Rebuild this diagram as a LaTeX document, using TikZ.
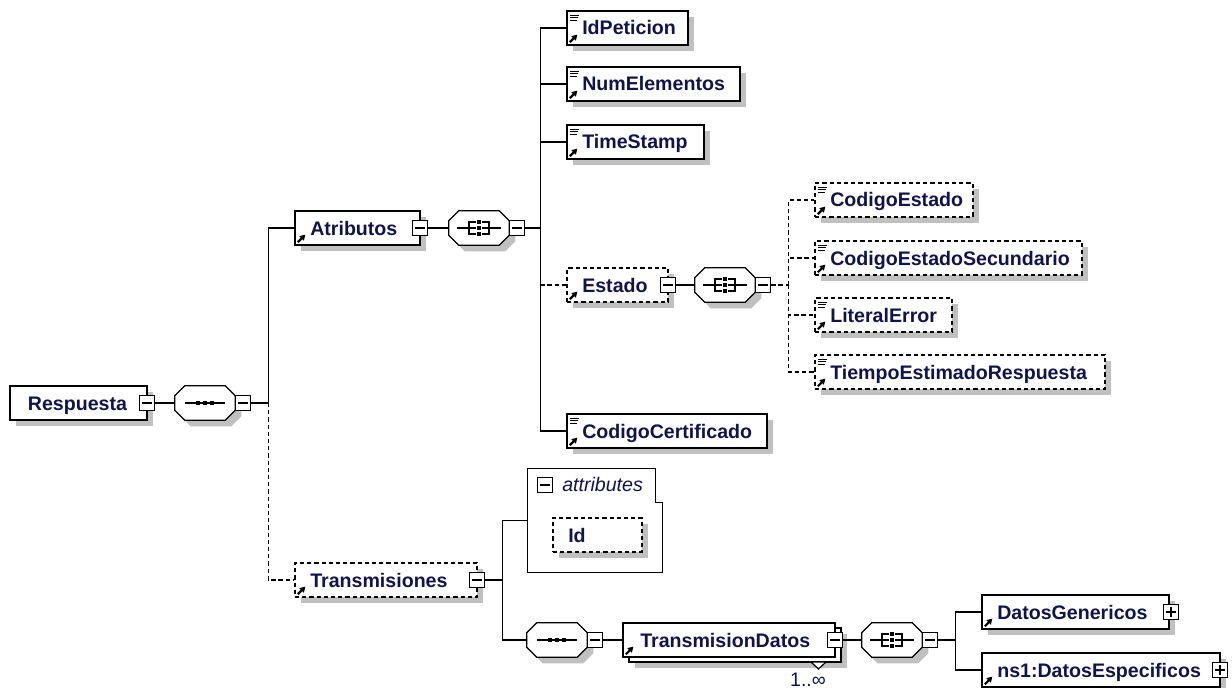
\documentclass[tikz,border=0pt]{standalone}
\usepackage{fontspec}
\setmainfont{Liberation Sans}
\usetikzlibrary{calc,shadows,arrows.meta}
\definecolor{txt}{RGB}{16,20,72}
\definecolor{shd}{RGB}{192,192,192}
\tikzset{
  conn/.style={line width=1pt, draw=black},
  dsh/.style={dash pattern=on 3.2pt off 2.2pt},
  elplain/.style={draw=black, fill=white, line width=1pt, minimum height=25.5pt, inner sep=0pt},
  elbox/.style={elplain, general shadow={fill=shd, shadow xshift=4.5pt, shadow yshift=-4.5pt}},
  eltext/.style={font=\fontsize{14.7}{17}\selectfont\bfseries, text=txt, inner sep=0pt, anchor=base west},
  mbox/.style={draw=black, fill=white, line width=0.9pt, minimum size=11.5pt, inner sep=0pt,
    path picture={\draw[line width=0.9pt] ([xshift=2pt]path picture bounding box.west) -- ([xshift=-2pt]path picture bounding box.east);}},
  pbox/.style={draw=black, fill=white, line width=0.9pt, minimum size=11.5pt, inner sep=0pt,
    path picture={\draw[line width=0.9pt] ([xshift=2pt]path picture bounding box.west) -- ([xshift=-2pt]path picture bounding box.east)
      ([yshift=2pt]path picture bounding box.south) -- ([yshift=-2pt]path picture bounding box.north);}},
  cbox/.style={minimum width=45pt, minimum height=25.5pt, inner sep=0pt},
  octo/.style={draw=black, fill=white, line width=1pt, general shadow={fill=shd, shadow xshift=4.5pt, shadow yshift=-4.5pt}},
  icon/.style={line width=0.75pt},
}
\newcommand\xel[6]{%
  \node[#5, minimum width={(#4-#2)*0.75pt}] (#1) at ({(#2+#4)/2},#3) {};
  \node[eltext] (#1-t) at (#2+15,#3+7) {#6};}
\newcommand\icarrow[1]{\draw[line width=1.6pt,-{Triangle[length=4pt,width=4.6pt]}] ($(#1.south west)+(3.5,-3.5)$) -- ($(#1.south west)+(11,-11)$);}
\newcommand\iclines[1]{\draw[icon] ($(#1.north west)+(4,5)$) -- ++(9,0) ($(#1.north west)+(4,7.5)$) -- ++(8,0) ($(#1.north west)+(4,10)$) -- ++(7,0);}
\newcommand\xcomp[3]{%
  \node[cbox] (#1) at (#2+30,#3) {};
  \draw[octo] ($(#1.north west)+(10,0)$) -- ($(#1.north east)+(-10,0)$) -- ($(#1.north east)+(0,10)$) -- ($(#1.south east)+(0,-10)$) -- ($(#1.south east)+(-10,0)$) -- ($(#1.south west)+(10,0)$) -- ($(#1.south west)+(0,-10)$) -- ($(#1.north west)+(0,10)$) -- cycle;
  \node[mbox] (#1-m) at (#2+68,#3) {};}
\newcommand\symseq[1]{%
  \draw[line width=1pt] ($(#1)+(-20,0)$) -- ($(#1)+(20,0)$);
  \foreach \d in {-7,0,7} \fill ($(#1)+(\d-2.2,-2.2)$) rectangle ($(#1)+(\d+2.2,2.2)$);}
\newcommand\symcho[1]{%
  \draw[line width=1pt] ($(#1)+(-22,0)$) -- ($(#1)+(-3,0)$) ($(#1)+(3,0)$) -- ($(#1)+(22,0)$)
    ($(#1)+(-3,-6)$) -- ($(#1)+(-10,-6)$) -- ($(#1)+(-10,6)$) -- ($(#1)+(-3,6)$)
    ($(#1)+(3,-6)$) -- ($(#1)+(10,-6)$) -- ($(#1)+(10,6)$) -- ($(#1)+(3,6)$);
  \foreach \d in {-6,0,6} \fill ($(#1)+(-2.2,\d-2.2)$) rectangle ($(#1)+(2.2,\d+2.2)$);}
\begin{document}
\begin{tikzpicture}[x=0.75pt,y=-0.75pt]
\fill[white] (0,0) rectangle (1232,688);
\useasboundingbox (0,0) rectangle (1232,688);

% root and first sequence
\xel{resp}{10}{403}{147}{elbox}{\hspace*{2pt}Respuesta}
\node[mbox] (resp-m) at (147,403) {};
\xcomp{s1}{175}{403}\symseq{s1}

% Atributos
\xel{atr}{295}{228}{420}{elbox}{Atributos}\icarrow{atr}
\node[mbox] (atr-m) at (420,228) {};
\xcomp{c1}{449}{228}\symcho{c1}

% leaves of Atributos
\xel{idp}{567}{28}{688}{elbox}{IdPeticion}\iclines{idp}\icarrow{idp}
\xel{nume}{567}{84}{740}{elbox}{NumElementos}\iclines{nume}\icarrow{nume}
\xel{tst}{567}{142}{704}{elbox}{TimeStamp}\iclines{tst}\icarrow{tst}
\xel{est}{567}{285}{668}{elbox,dsh}{Estado}\icarrow{est}
\node[mbox] (est-m) at (668,285) {};
\xel{cert}{567}{431}{767}{elbox}{CodigoCertificado}\iclines{cert}\icarrow{cert}

% Estado
\xcomp{c2}{695}{285}\symcho{c2}
\xel{ce}{815}{200}{973}{elbox,dsh}{CodigoEstado}\iclines{ce}\icarrow{ce}
\xel{ces}{815}{258}{1082}{elbox,dsh}{CodigoEstadoSecundario}\iclines{ces}\icarrow{ces}
\xel{le}{815}{315}{952}{elbox,dsh}{LiteralError}\iclines{le}\icarrow{le}
\xel{ter}{815}{372}{1105}{elbox,dsh}{TiempoEstimadoRespuesta}\iclines{ter}\icarrow{ter}

% Transmisiones
\xel{trans}{295}{580}{477}{elbox,dsh}{Transmisiones}\icarrow{trans}
\node[mbox] (trans-m) at (477,580) {};
\node[minimum width=100.5pt, minimum height=77.25pt, inner sep=0pt] (attrs) at (595,520.5) {};
\draw[line width=1pt] (attrs.north west) -- ($(attrs.north east)+(-7,0)$) -- ($(attrs.north east)+(-7,34)$) -- ($(attrs.north east)+(0,34)$) -- (attrs.south east) -- (attrs.south west) -- cycle;
\node[mbox] (attrs-m) at (545,485) {};
\node[font=\fontsize{14.7}{17}\selectfont\itshape, text=txt, anchor=base west, inner sep=0pt] (attrs-t) at (562,491) {attributes};
\xel{id}{553}{535}{642}{elbox,dsh}{Id}

\xcomp{s2}{527}{640}\symseq{s2}
\node[elbox, minimum width=159pt] (tdb) at (735,645) {};
\xel{td}{623}{640}{835}{elplain}{\hspace*{1.5pt}TransmisionDatos}\icarrow{td}
\node[mbox] (td-m) at (835,640) {};
\draw[line width=0.9pt, fill=white] (811,662) -- (826,662) -- (818.5,669) -- cycle;
\node[font=\fontsize{14.7}{17}\selectfont, text=txt, anchor=base, inner sep=0pt] (mult) at (808,686) {1..∞};

\xcomp{c3}{862}{640}\symcho{c3}
\xel{dg}{982}{612}{1169}{elbox}{DatosGenericos}\icarrow{dg}
\node[pbox] (dg-p) at (1171,612) {};
\xel{de}{982}{670}{1220}{elbox}{ns1:DatosEspecificos}\icarrow{de}
\node[pbox] (de-p) at (1220,670) {};

% connectors
\draw[conn] (resp-m.east) -- (s1.west);
\coordinate (j1) at ($(s1-m.east)+(17,0)$);
\draw[conn] (s1-m.east) -- (j1) |- (atr.west);
\draw[conn,dsh] (j1) |- (trans.west);
\draw[conn] (atr-m.east) -- (c1.west);
\coordinate (j2) at ($(c1-m.east)+(15,0)$);
\draw[conn] (c1-m.east) -- (j2);
\draw[conn] (j2) |- (idp.west) (j2) |- (nume.west) (j2) |- (tst.west) (j2) |- (cert.west);
\draw[conn,dsh] (j2 |- est.west) -- (est.west);
\draw[conn] (est-m.east) -- (c2.west);
\coordinate (j3) at ($(c2-m.east)+(17,0)$);
\draw[conn,dsh] (c2-m.east) -- (j3);
\draw[conn,dsh] (j3) |- (ce.west) (j3) |- (ces.west) (j3) |- (le.west) (j3) |- (ter.west);
\coordinate (j4) at ($(trans-m.east)+(17,0)$);
\draw[conn] (trans-m.east) -- (j4) |- (attrs.west);
\draw[conn] (j4) |- (s2.west);
\draw[conn] (s2-m.east) -- (td.west);
\draw[conn] (td-m.east) -- (c3.west);
\coordinate (j5) at ($(c3-m.east)+(17,0)$);
\draw[conn] (c3-m.east) -- (j5) |- (dg.west);
\draw[conn] (j5) |- (de.west);
\end{tikzpicture}
\end{document}
